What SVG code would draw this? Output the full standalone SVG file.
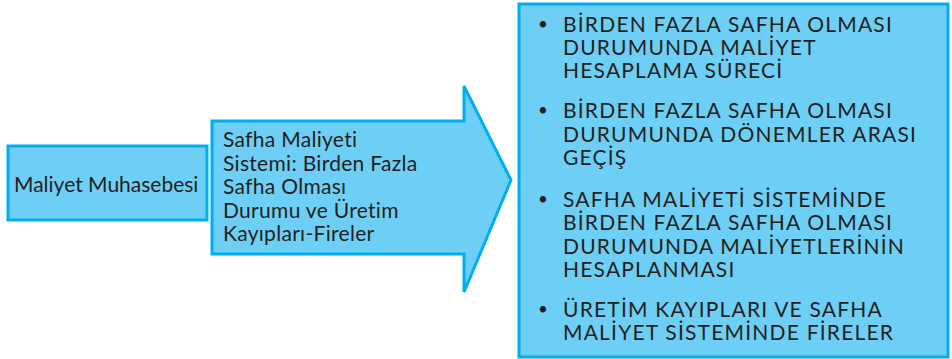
<svg xmlns="http://www.w3.org/2000/svg" width="952" height="359" viewBox="0 0 952 359">
  <style>
    .shape { fill: #6dcff6; stroke: #00aeef; stroke-width: 3; stroke-linejoin: miter; }
    .txt { font-family: Lato, "Open Sans", "Liberation Sans", sans-serif; font-size: 21px; fill: #231f20; }
    .mixed { letter-spacing: 0.3px; }
    .caps { letter-spacing: 1.2px; }
    .bullet { font-size: 17px; }
  </style>
  <rect width="952" height="359" fill="#ffffff"/>

  <g id="connectors"></g>

  <!-- Left: main topic -->
  <g id="node-maliyet-muhasebesi">
    <rect class="shape" x="8" y="146" width="199" height="74"/>
    <text class="txt" x="14" y="192">Maliyet Muhasebesi</text>
  </g>

  <!-- Middle: unit title as an arrow -->
  <g id="node-unite-basligi">
    <path class="shape" d="M212,121 H464 V86 L511,180 L464,292 V254 H212 Z"/>
    <text class="txt mixed">
      <tspan x="223" y="147">Safha Maliyeti</tspan>
      <tspan x="223" y="170.5">Sistemi: Birden Fazla</tspan>
      <tspan x="223" y="194">Safha Olması</tspan>
      <tspan x="223" y="217.5">Durumu ve Üretim</tspan>
      <tspan x="223" y="241">Kayıpları-Fireler</tspan>
    </text>
  </g>

  <!-- Right: subtopics -->
  <g id="node-konular">
    <rect class="shape" x="519" y="4" width="429" height="353"/>
    <g class="txt bullet">
      <text x="538" y="30">•</text>
      <text x="538" y="116">•</text>
      <text x="538" y="205">•</text>
      <text x="538" y="315">•</text>
    </g>
    <g class="txt caps">
      <text x="563" y="32">BİRDEN FAZLA SAFHA OLMASI</text>
      <text x="563" y="55">DURUMUNDA MALİYET</text>
      <text x="563" y="78">HESAPLAMA SÜRECİ</text>

      <text x="563" y="118">BİRDEN FAZLA SAFHA OLMASI</text>
      <text x="563" y="141.5">DURUMUNDA DÖNEMLER ARASI</text>
      <text x="563" y="165">GEÇİŞ</text>

      <text x="563" y="207">SAFHA MALİYETİ SİSTEMİNDE</text>
      <text x="563" y="230">BİRDEN FAZLA SAFHA OLMASI</text>
      <text x="563" y="253.5">DURUMUNDA MALİYETLERİNİN</text>
      <text x="563" y="277">HESAPLANMASI</text>

      <text x="563" y="317">ÜRETİM KAYIPLARI VE SAFHA</text>
      <text x="563" y="340">MALİYET SİSTEMİNDE FİRELER</text>
    </g>
  </g>
</svg>
